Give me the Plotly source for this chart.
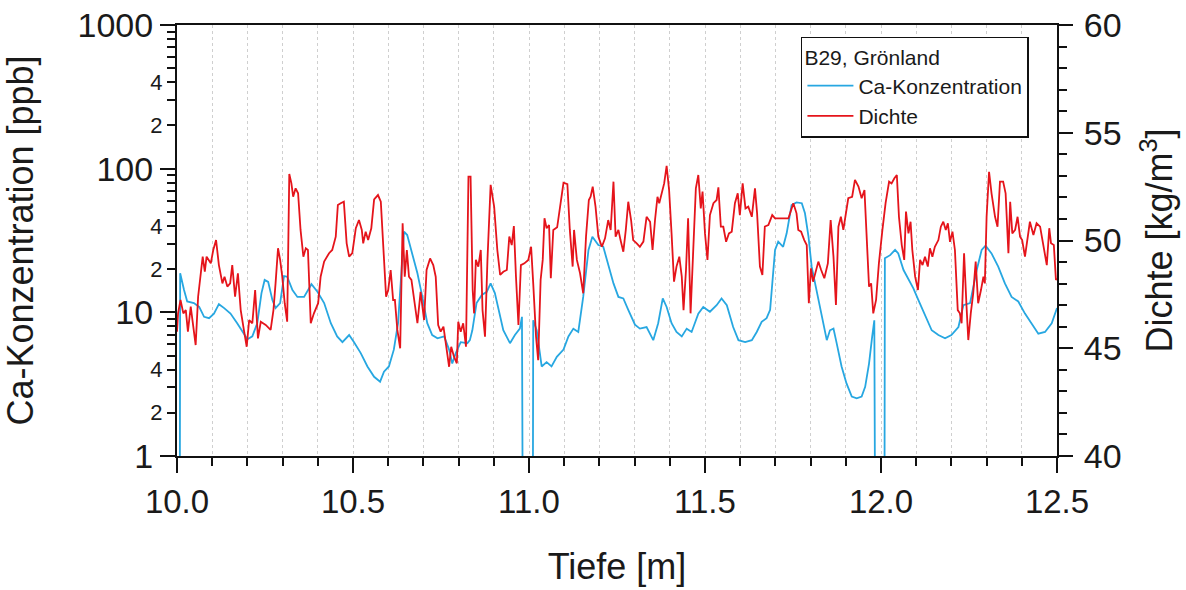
import plotly.graph_objects as go

# ---------------- data ----------------
ca_depth = [10.008, 10.009, 10.02, 10.029, 10.048, 10.063, 10.077, 10.091, 10.105, 10.119, 10.134, 10.152,
            10.171, 10.186, 10.2, 10.214, 10.228, 10.24, 10.249, 10.259, 10.271, 10.28, 10.293, 10.304,
            10.313, 10.328, 10.342, 10.361, 10.382, 10.399, 10.418, 10.437, 10.455, 10.47, 10.489, 10.503,
            10.522, 10.541, 10.56, 10.577, 10.588, 10.602, 10.616, 10.628, 10.636, 10.645, 10.654, 10.668,
            10.683, 10.697, 10.711, 10.725, 10.74, 10.759, 10.773, 10.782, 10.792, 10.806, 10.825, 10.832,
            10.839, 10.851, 10.866, 10.88, 10.891, 10.903, 10.913, 10.927, 10.946, 10.96, 10.974, 10.98,
            10.982, 11.011, 11.012, 11.022, 11.036, 11.05, 11.064, 11.079, 11.098, 11.112, 11.126, 11.14,
            11.154, 11.169, 11.18, 11.197, 11.211, 11.225, 11.24, 11.254, 11.268, 11.282, 11.301, 11.315,
            11.334, 11.353, 11.367, 11.38, 11.391, 11.405, 11.419, 11.434, 11.448, 11.462, 11.481, 11.495,
            11.514, 11.533, 11.547, 11.562, 11.58, 11.595, 11.614, 11.633, 11.647, 11.661, 11.675, 11.685,
            11.699, 11.708, 11.722, 11.732, 11.746, 11.76, 11.775, 11.784, 11.794, 11.803, 11.817, 11.831,
            11.846, 11.855, 11.865, 11.874, 11.888, 11.902, 11.917, 11.931, 11.945, 11.955, 11.966, 11.975,
            11.981, 11.983, 12.010, 12.011, 12.026, 12.04, 12.049, 12.064, 12.078, 12.092, 12.106, 12.125,
            12.144, 12.163, 12.182, 12.2, 12.22, 12.234, 12.253, 12.272, 12.286, 12.297, 12.314, 12.333,
            12.352, 12.371, 12.39, 12.409, 12.428, 12.447, 12.466, 12.485, 12.5]
ca_ppb = [0.5, 18.7, 14.3, 11.9, 11.6, 10.9, 9.3, 9.1, 9.8, 11.4, 10.7, 9.8,
          8.4, 7.3, 6.5, 6.8, 8.4, 13.6, 16.8, 16.3, 12.2, 10.7, 11.6, 17.9,
          17.7, 14.3, 12.8, 12.8, 15.7, 13.9, 11.6, 8.4, 6.8, 6.2, 6.95, 6.2,
          5.2, 4.2, 3.56, 3.29, 3.86, 4.2, 5.5, 8.4, 15.9, 36.4, 34.5, 25.7,
          18.7, 12.8, 8.4, 6.95, 6.6, 6.8, 5.5, 4.4, 5.2, 6.2, 6.1, 6.4,
          7.5, 11.6, 13.2, 13.9, 15.9, 13.6, 10.4, 7.5, 6.1, 6.95, 7.7, 9.3,
          0.5, 0.5, 8.8, 7.5, 4.2, 4.5, 4.2, 4.9, 5.5, 6.8, 7.7, 7.3,
          12.8, 27.2, 33.6, 29.4, 28.6, 21.9, 15.9, 12.8, 12.5, 10.4, 8.2, 7.7,
          7.9, 6.4, 8.4, 12.5, 10.9, 8.4, 7.3, 6.8, 7.7, 7.3, 9.8, 10.9,
          10.1, 11.2, 12.5, 11.2, 7.9, 6.4, 6.2, 6.4, 7.3, 8.6, 9.1, 10.4,
          27.2, 31.0, 28.6, 35.5, 55.8, 58.2, 57.5, 48.9, 33.6, 20.8, 14.3, 9.3,
          6.4, 7.5, 7.7, 6.1, 4.2, 3.2, 2.59, 2.52, 2.59, 3.03, 4.4, 6.8,
          8.8, 0.5, 0.5, 23.8, 25.0, 27.2, 25.7, 19.7, 16.8, 14.7, 12.2, 9.6,
          7.5, 6.95, 6.6, 6.95, 7.9, 11.2, 11.6, 19.7, 27.2, 29.1, 25.7, 20.8,
          15.9, 12.8, 11.9, 9.8, 8.4, 7.1, 7.3, 8.4, 10.7]

rho_depth = [10.0, 10.003, 10.01, 10.018, 10.025, 10.031, 10.039, 10.045, 10.053, 10.06, 10.067, 10.073,
             10.079, 10.084, 10.096, 10.103, 10.111, 10.119, 10.129, 10.135, 10.143, 10.151, 10.157, 10.165,
             10.173, 10.181, 10.19, 10.198, 10.205, 10.214, 10.222, 10.23, 10.238, 10.252, 10.266, 10.274,
             10.28, 10.287, 10.293, 10.299, 10.306, 10.313, 10.319, 10.325, 10.33, 10.337, 10.344, 10.351,
             10.359, 10.366, 10.372, 10.38, 10.389, 10.401, 10.408, 10.418, 10.432, 10.441, 10.451, 10.457,
             10.465, 10.474, 10.482, 10.489, 10.498, 10.508, 10.517, 10.525, 10.529, 10.536, 10.543, 10.552,
             10.56, 10.571, 10.579, 10.586, 10.594, 10.6, 10.607, 10.614, 10.619, 10.626, 10.634, 10.641,
             10.647, 10.653, 10.659, 10.666, 10.675, 10.683, 10.692, 10.702, 10.709, 10.719, 10.728, 10.735,
             10.742, 10.749, 10.757, 10.766, 10.773, 10.779, 10.787, 10.795, 10.799, 10.806, 10.813, 10.821,
             10.828, 10.834, 10.84, 10.844, 10.849, 10.856, 10.863, 10.868, 10.875, 10.882, 10.891, 10.901,
             10.91, 10.918, 10.927, 10.937, 10.944, 10.951, 10.957, 10.963, 10.97, 10.977, 10.987, 10.998,
             11.006, 11.012, 11.02, 11.026, 11.033, 11.039, 11.044, 11.05, 11.057, 11.062, 11.069, 11.08,
             11.09, 11.098, 11.109, 11.116, 11.124, 11.128, 11.136, 11.145, 11.154, 11.162, 11.17, 11.175,
             11.181, 11.189, 11.197, 11.207, 11.216, 11.225, 11.232, 11.24, 11.246, 11.254, 11.26, 11.268,
             11.275, 11.282, 11.29, 11.296, 11.306, 11.315, 11.325, 11.334, 11.344, 11.351, 11.358, 11.365,
             11.37, 11.377, 11.384, 11.391, 11.398, 11.405, 11.412, 11.419, 11.427, 11.434, 11.439, 11.446,
             11.452, 11.459, 11.467, 11.474, 11.481, 11.488, 11.493, 11.5, 11.507, 11.514, 11.524, 11.533,
             11.538, 11.545, 11.552, 11.56, 11.568, 11.576, 11.585, 11.593, 11.599, 11.607, 11.615, 11.623,
             11.633, 11.642, 11.648, 11.656, 11.663, 11.67, 11.68, 11.691, 11.699, 11.718, 11.737, 11.751,
             11.76, 11.765, 11.773, 11.782, 11.789, 11.795, 11.801, 11.807, 11.814, 11.822, 11.83, 11.839,
             11.849, 11.857, 11.865, 11.872, 11.879, 11.886, 11.893, 11.9, 11.907, 11.918, 11.926, 11.936,
             11.945, 11.953, 11.959, 11.966, 11.972, 11.978, 11.986, 11.994, 12.004, 12.013, 12.023, 12.03,
             12.038, 12.045, 12.051, 12.059, 12.066, 12.071, 12.078, 12.084, 12.089, 12.097, 12.105, 12.111,
             12.118, 12.125, 12.133, 12.139, 12.146, 12.153, 12.163, 12.17, 12.177, 12.184, 12.19, 12.196,
             12.203, 12.21, 12.218, 12.224, 12.229, 12.236, 12.243, 12.248, 12.255, 12.262, 12.269, 12.276,
             12.284, 12.291, 12.295, 12.3, 12.307, 12.314, 12.324, 12.331, 12.338, 12.347, 12.354, 12.362,
             12.367, 12.373, 12.381, 12.388, 12.395, 12.401, 12.409, 12.417, 12.423, 12.433, 12.442, 12.452,
             12.461, 12.471, 12.478, 12.483, 12.491, 12.497, 12.5]
rho_kgm3 = [45.77, 46.62, 47.24, 46.62, 46.77, 45.77, 46.93, 46.16, 45.15, 47.39, 48.32, 49.25,
            48.55, 49.25, 48.94, 49.56, 50.02, 48.86, 48.01, 48.32, 47.86, 48.01, 48.86, 47.39,
            48.48, 46.77, 45.85, 45.07, 46.31, 46.16, 47.7, 45.46, 46.23, 46.08, 45.85, 46.77,
            48.01, 49.64, 49.1, 48.32, 47.09, 46.23, 53.09, 52.65, 52.03, 52.42, 52.19, 50.49,
            49.25, 49.64, 49.56, 46.16, 46.62, 47.09, 48.32, 49.02, 49.41, 49.56, 50.18, 51.65,
            51.73, 51.8, 49.87, 49.25, 49.41, 50.57, 50.95, 50.49, 49.87, 50.41, 50.02, 50.57,
            51.91, 52.11, 51.8, 49.87, 47.39, 47.7, 48.63, 47.24, 47.24, 45.85, 45.0, 50.8,
            48.32, 49.56, 48.32, 48.17, 47.09, 46.16, 47.62, 46.31, 48.63, 49.17, 48.86, 48.32,
            46.08, 45.77, 46.0, 44.92, 44.14, 45.07, 44.61, 44.3, 46.23, 45.77, 46.16, 45.07,
            52.96, 52.96, 47.7, 46.62, 49.1, 48.79, 49.56, 46.77, 45.54, 49.1, 52.58, 51.57,
            49.56, 48.4, 48.55, 48.63, 50.18, 49.79, 50.67, 48.32, 46.08, 48.86, 48.94, 49.1,
            49.71, 48.01, 45.54, 44.45, 48.17, 49.1, 51.03, 50.57, 50.72, 48.25, 50.49, 50.61,
            51.88, 52.68, 52.61, 50.49, 48.79, 50.49, 49.1, 48.48, 47.55, 50.18, 51.88, 52.03,
            52.5, 51.57, 50.18, 49.71, 50.1, 50.95, 50.49, 52.73, 50.18, 50.49, 50.02, 49.48,
            50.49, 51.8, 50.95, 50.02, 49.87, 49.71, 49.95, 51.1, 50.87, 49.56, 50.95, 52.03,
            51.73, 52.19, 52.65, 53.46, 52.34, 50.33, 48.09, 48.79, 49.25, 48.32, 46.77, 48.63,
            51.03, 46.62, 49.71, 52.42, 53.04, 51.49, 52.27, 50.33, 49.1, 51.18, 51.73, 51.88,
            52.47, 50.64, 50.64, 49.94, 50.33, 50.41, 51.73, 52.19, 51.18, 52.65, 51.49, 51.57,
            51.1, 52.42, 51.26, 48.79, 48.4, 50.65, 50.72, 51.18, 51.03, 51.03, 51.03, 51.73,
            51.26, 50.49, 50.41, 50.02, 49.79, 47.09, 48.71, 48.09, 48.55, 49.02, 48.63, 48.25,
            48.94, 50.95, 49.25, 47.01, 50.64, 51.1, 50.49, 51.26, 51.96, 52.03, 52.81, 52.5,
            51.96, 52.34, 50.33, 47.86, 48.01, 46.62, 47.24, 48.94, 50.49, 51.73, 52.73, 52.65,
            52.89, 53.04, 51.1, 49.79, 49.1, 51.34, 50.33, 50.87, 49.56, 48.32, 47.7, 49.1,
            48.86, 49.25, 48.79, 49.64, 49.25, 49.71, 50.02, 50.64, 50.87, 50.49, 50.8, 49.94,
            50.41, 49.56, 46.77, 46.62, 46.16, 49.41, 46.93, 45.38, 46.62, 47.55, 49.02, 47.09,
            47.7, 48.32, 48.01, 51.1, 53.19, 52.19, 51.1, 50.64, 52.73, 52.73, 52.19, 49.41,
            51.8, 50.33, 50.49, 51.1, 50.18, 50.02, 49.25, 50.1, 50.87, 50.26, 50.8, 50.64,
            49.87, 48.86, 50.57, 49.87, 49.79, 48.17, 48.25]

x_ticks = [10.0, 10.5, 11.0, 11.5, 12.0, 12.5]
ca_major = [1, 10, 100, 1000]
ca_labeled_minor = [2, 4, 20, 40, 200, 400]
rho_ticks = [40, 45, 50, 55, 60]

legend_title = "B29, Grönland"
name_ca = "Ca-Konzentration"
name_rho = "Dichte"

BLUE = "#27a7e1"
RED = "#e5141b"
FONT = "Liberation Sans, Arial, sans-serif"
TXT = "#1a1a1a"
GRID = "#cfcfcf"

# minor log ticks
ca_minor = [m * 10 ** e for e in range(3) for m in range(2, 10)]

fig = go.Figure()
fig.add_trace(go.Scatter(x=ca_depth, y=ca_ppb, mode="lines", name=name_ca,
                         line=dict(color=BLUE, width=1.8), yaxis="y"))
fig.add_trace(go.Scatter(x=rho_depth, y=rho_kgm3, mode="lines", name=name_rho,
                         line=dict(color=RED, width=1.8), yaxis="y2"))
# helper trace so the decade-tick axis is drawn
fig.add_trace(go.Scatter(x=[10.0], y=[1], mode="lines", yaxis="y3", showlegend=False,
                         hoverinfo="skip", line=dict(width=0)))

fig.update_layout(
    width=1186, height=590,
    margin=dict(l=177, r=129, t=25, b=134),
    paper_bgcolor="white", plot_bgcolor="white",
    font=dict(family=FONT, color=TXT),
    showlegend=True,
    legend=dict(
        x=0.709, y=0.973, xanchor="left", yanchor="top",
        bgcolor="white", bordercolor="#111", borderwidth=1.5,
        font=dict(size=21, family=FONT, color=TXT),
        title=dict(text=legend_title, font=dict(size=21, family=FONT, color=TXT)),
        tracegroupgap=0, itemwidth=46,
    ),
    xaxis=dict(
        range=[10.0, 12.5], tickvals=x_ticks, ticktext=[f"{v:.1f}" for v in x_ticks],
        ticks="outside", ticklen=15, tickwidth=1.8, tickcolor="#111",
        tickfont=dict(size=33, family=FONT, color=TXT),
        showline=True, linecolor="#111", linewidth=2, mirror=True,
        showgrid=True, gridcolor=GRID, griddash="dot", gridwidth=1,
        zeroline=False, automargin=False,
        minor=dict(dtick=0.1, tick0=10.0, ticks="outside", ticklen=8, tickwidth=1.5,
                   tickcolor="#111", showgrid=True, gridcolor=GRID, griddash="dot", gridwidth=1),
        title=dict(text="Tiefe [m]", font=dict(size=36, family=FONT, color=TXT), standoff=35),
    ),
    yaxis=dict(
        type="log", range=[0, 3],
        tickvals=ca_labeled_minor, ticktext=[str(v)[0] for v in ca_labeled_minor],
        ticks="outside", ticklen=8, tickwidth=1.5, tickcolor="#111",
        tickfont=dict(size=22, family=FONT, color=TXT),
        showline=True, linecolor="#111", linewidth=2, mirror=True,
        showgrid=False, zeroline=False, automargin=False,
        minor=dict(tickvals=ca_minor, ticks="outside", ticklen=8, tickwidth=1.5,
                   tickcolor="#111", showgrid=False),
    ),
    yaxis3=dict(
        type="log", range=[0, 3], overlaying="y", side="left", anchor="x",
        tickvals=ca_major, ticktext=[str(v) for v in ca_major],
        ticks="outside", ticklen=16, tickwidth=1.8, tickcolor="#111",
        tickfont=dict(size=34, family=FONT, color=TXT),
        showline=False, showgrid=False, zeroline=False, automargin=False,
        title=dict(text="Ca-Konzentration [ppb]", font=dict(size=36, family=FONT, color=TXT), standoff=38),
    ),
    yaxis2=dict(
        range=[40, 60], overlaying="y", side="right", anchor="x",
        tickvals=rho_ticks, ticks="outside", ticklen=14, tickwidth=1.8, tickcolor="#111",
        tickfont=dict(size=34, family=FONT, color=TXT), ticklabelstandoff=4,
        showline=True, linecolor="#111", linewidth=2,
        showgrid=False, zeroline=False, automargin=False,
        minor=dict(dtick=1, tick0=40, ticks="outside", ticklen=8, tickwidth=1.5, tickcolor="#111",
                   showgrid=False),
        title=dict(text="Dichte [kg/m<sup>3</sup>]", font=dict(size=36, family=FONT, color=TXT),
                   standoff=26),
    ),
)

# remove the default 8px page margin so the figure fills the window exactly
fig.write_html("out.html", config={"displayModeBar": False},
               post_script="document.body.style.margin='0px';")
